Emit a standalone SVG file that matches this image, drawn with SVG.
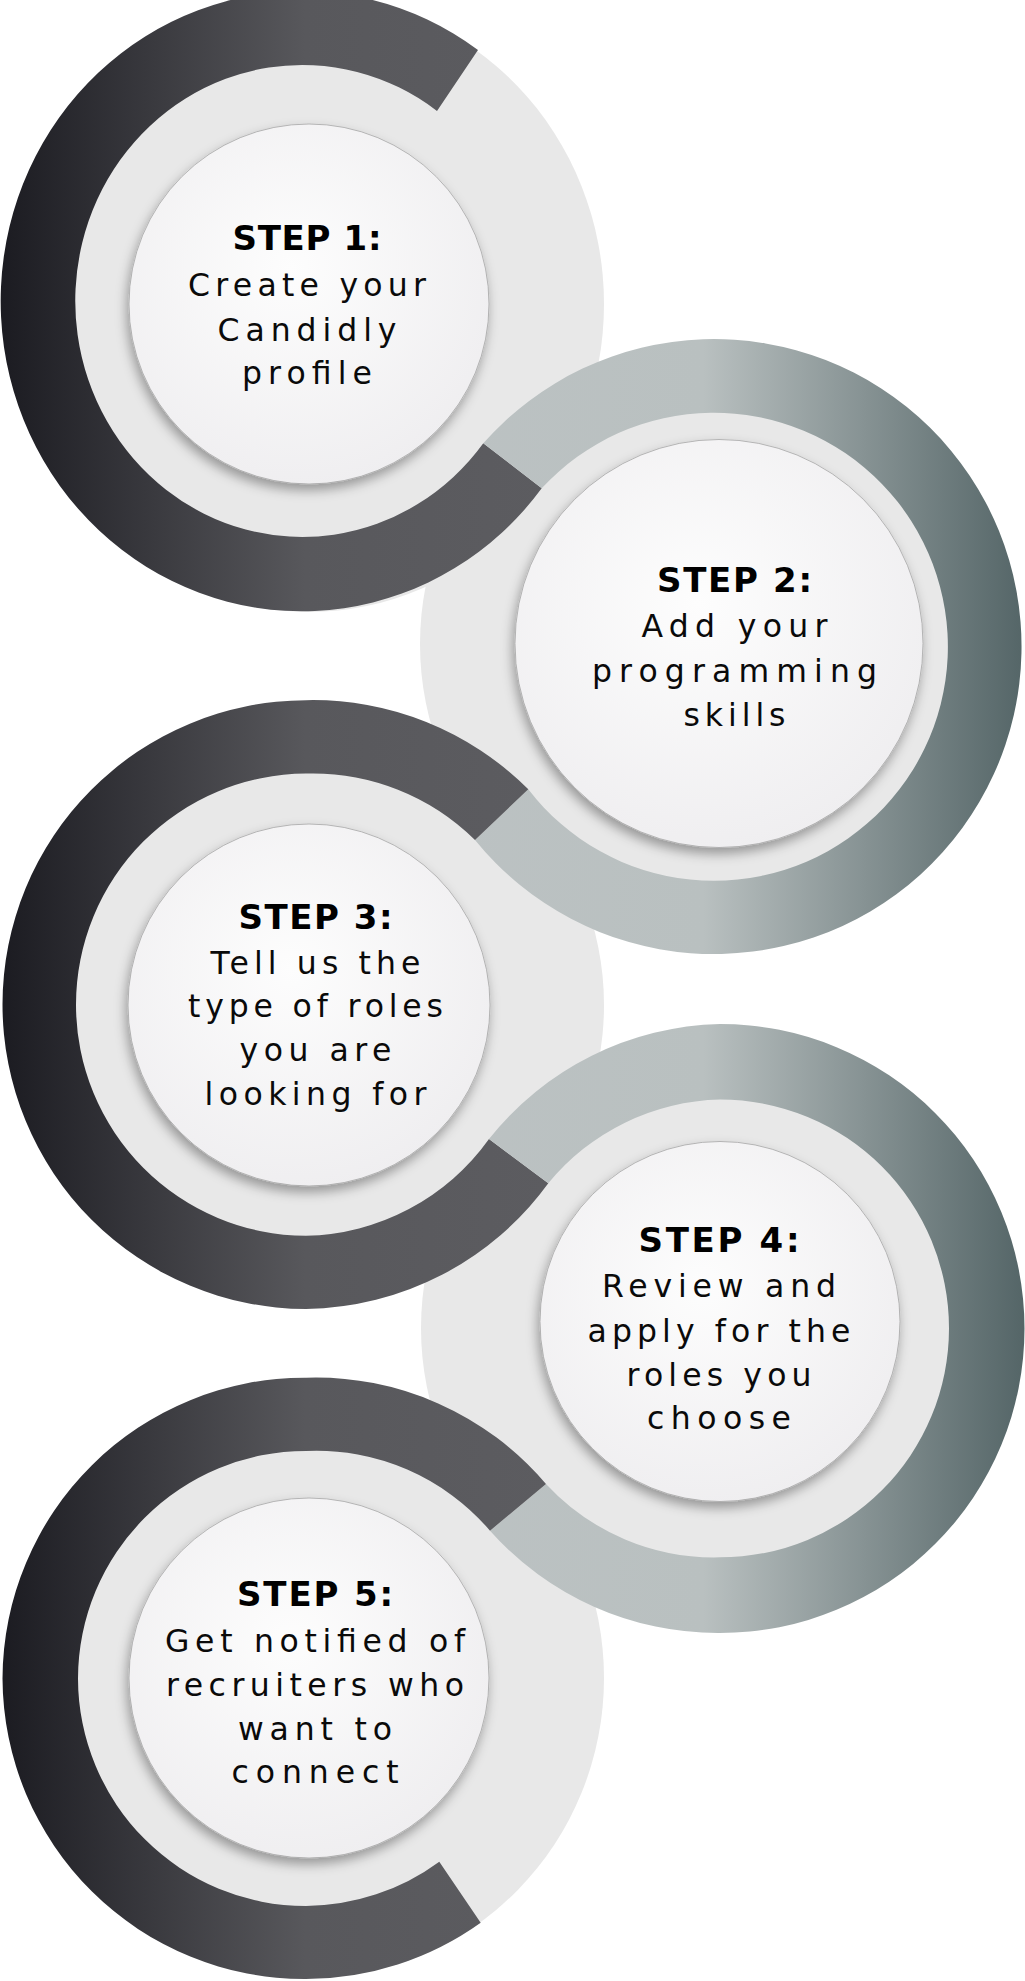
<svg xmlns="http://www.w3.org/2000/svg" width="1025" height="1981" viewBox="0 0 1025 1981">
<defs>
<linearGradient id="gDark" gradientUnits="userSpaceOnUse" x1="0" y1="0" x2="610" y2="0">
<stop offset="0" stop-color="#1b1b21"/><stop offset="0.5" stop-color="#58585c"/><stop offset="1" stop-color="#5d5d61"/>
</linearGradient>
<linearGradient id="gLight" gradientUnits="userSpaceOnUse" x1="406" y1="0" x2="1025" y2="0">
<stop offset="0" stop-color="#bcc2c3"/><stop offset="0.48" stop-color="#b9c0c0"/><stop offset="1" stop-color="#546567"/>
</linearGradient>
<radialGradient id="gWhite" cx="0.45" cy="0.4" r="0.62">
<stop offset="0" stop-color="#fdfdfd"/><stop offset="1" stop-color="#efeef0"/>
</radialGradient>
<filter id="sh" x="-20%" y="-20%" width="140%" height="150%">
<feDropShadow dx="-2" dy="6" stdDeviation="6" flood-color="#000" flood-opacity="0.35"/>
</filter>
<style>
.disc{fill:#e8e8e8}
.dark{fill:url(#gDark)}
.light{fill:url(#gLight)}
.white{fill:url(#gWhite);stroke:#a6a6a6;stroke-width:0.8;filter:url(#sh)}
.h{font-family:"DejaVu Sans",sans-serif;font-weight:bold;font-size:34px;fill:#000;text-anchor:middle}
.b{font-family:"DejaVu Sans",sans-serif;font-size:31.5px;fill:#0a0a0a;text-anchor:middle}
</style>
</defs>
<rect width="1025" height="1981" fill="#ffffff"/>
<g id="backdrops">
<ellipse class="disc" cx="309" cy="304" rx="295" ry="308"/>
<circle class="disc" cx="719" cy="644" r="299"/>
<circle class="disc" cx="309" cy="1005" r="295"/>
<circle class="disc" cx="720" cy="1328" r="299"/>
<ellipse class="disc" cx="309" cy="1678" rx="295" ry="300"/>
</g>
<g id="step1">
<path class="dark" d="M478 50 A301 310 0 1 0 541.7 488.3 L483.3 443.3 A227 236 0 1 1 437 111 Z"/>
<circle class="white" cx="309" cy="304" r="180"/>
<text class="h" x="307" y="250" textLength="149" lengthAdjust="spacing">STEP 1:</text>
<text class="b" x="307" y="296" textLength="238" lengthAdjust="spacing">Create your</text>
<text class="b" x="307" y="341" textLength="179" lengthAdjust="spacing">Candidly</text>
<text class="b" x="307" y="384" textLength="130" lengthAdjust="spacing">profile</text>
</g>
<g id="step2">
<path class="light" d="M483.3 443.3 A307.5 307.5 0 1 1 475 840 L528.3 789.3 A234 234 0 1 0 541.7 488.3 Z"/>
<circle class="white" cx="719" cy="643.5" r="204"/>
<text class="h" x="734.5" y="592" textLength="155" lengthAdjust="spacing">STEP 2:</text>
<text class="b" x="734.5" y="636.5" textLength="186" lengthAdjust="spacing">Add your</text>
<text class="b" x="734.5" y="682" textLength="285" lengthAdjust="spacing">programming</text>
<text class="b" x="734.5" y="725.5" textLength="102" lengthAdjust="spacing">skills</text>
</g>
<g id="step3">
<path class="dark" d="M528.3 789.3 A304.5 304.5 0 0 0 306 700.2 A304.5 304.5 0 0 0 2.5 1004.6 A304.5 304.5 0 0 0 306 1309 A304.5 304.5 0 0 0 548.3 1183.3 L489 1139 A231 231 0 0 1 306 1235.8 A231 231 0 0 1 76 1004.6 A231 231 0 0 1 306 773.6 A231 231 0 0 1 475 840 Z"/>
<circle class="white" cx="309" cy="1005" r="181"/>
<text class="h" x="315.5" y="929" textLength="154" lengthAdjust="spacing">STEP 3:</text>
<text class="b" x="315.5" y="973.5" textLength="210" lengthAdjust="spacing">Tell us the</text>
<text class="b" x="315.5" y="1017" textLength="255" lengthAdjust="spacing">type of roles</text>
<text class="b" x="315.5" y="1061" textLength="152" lengthAdjust="spacing">you are</text>
<text class="b" x="315.5" y="1105" textLength="222" lengthAdjust="spacing">looking for</text>
</g>
<g id="step4">
<path class="light" d="M489 1139 A304.5 304.5 0 0 1 720 1024 A304.5 304.5 0 0 1 1024.5 1328.5 A304.5 304.5 0 0 1 720 1633 A304.5 304.5 0 0 1 490 1530.7 L546 1484 A229 229 0 0 0 720 1557.3 A229 229 0 0 0 949 1328.5 A229 229 0 0 0 720 1099.5 A229 229 0 0 0 548.3 1183.3 Z"/>
<circle class="white" cx="720" cy="1321.5" r="180"/>
<text class="h" x="719" y="1252" textLength="161" lengthAdjust="spacing">STEP 4:</text>
<text class="b" x="719" y="1297" textLength="234" lengthAdjust="spacing">Review and</text>
<text class="b" x="719" y="1341.5" textLength="263" lengthAdjust="spacing">apply for the</text>
<text class="b" x="719" y="1385.5" textLength="185" lengthAdjust="spacing">roles you</text>
<text class="b" x="719" y="1429" textLength="144" lengthAdjust="spacing">choose</text>
</g>
<g id="step5">
<path class="dark" d="M546 1484 A302 302 0 0 0 306 1377.7 A302 302 0 0 0 2.5 1678.4 A302 302 0 0 0 306 1979 A302 302 0 0 0 480.7 1922.7 L439.3 1861.7 A228 228 0 0 1 306 1906 A228 228 0 0 1 78 1678.4 A228 228 0 0 1 306 1451 A228 228 0 0 1 490 1530.7 Z"/>
<circle class="white" cx="309" cy="1678" r="180"/>
<text class="h" x="315" y="1606" textLength="156" lengthAdjust="spacing">STEP 5:</text>
<text class="b" x="315" y="1652" textLength="300" lengthAdjust="spacing">Get notified of</text>
<text class="b" x="315" y="1696" textLength="298" lengthAdjust="spacing">recruiters who</text>
<text class="b" x="315" y="1739.5" textLength="154" lengthAdjust="spacing">want to</text>
<text class="b" x="315" y="1783" textLength="167" lengthAdjust="spacing">connect</text>
</g>
</svg>
